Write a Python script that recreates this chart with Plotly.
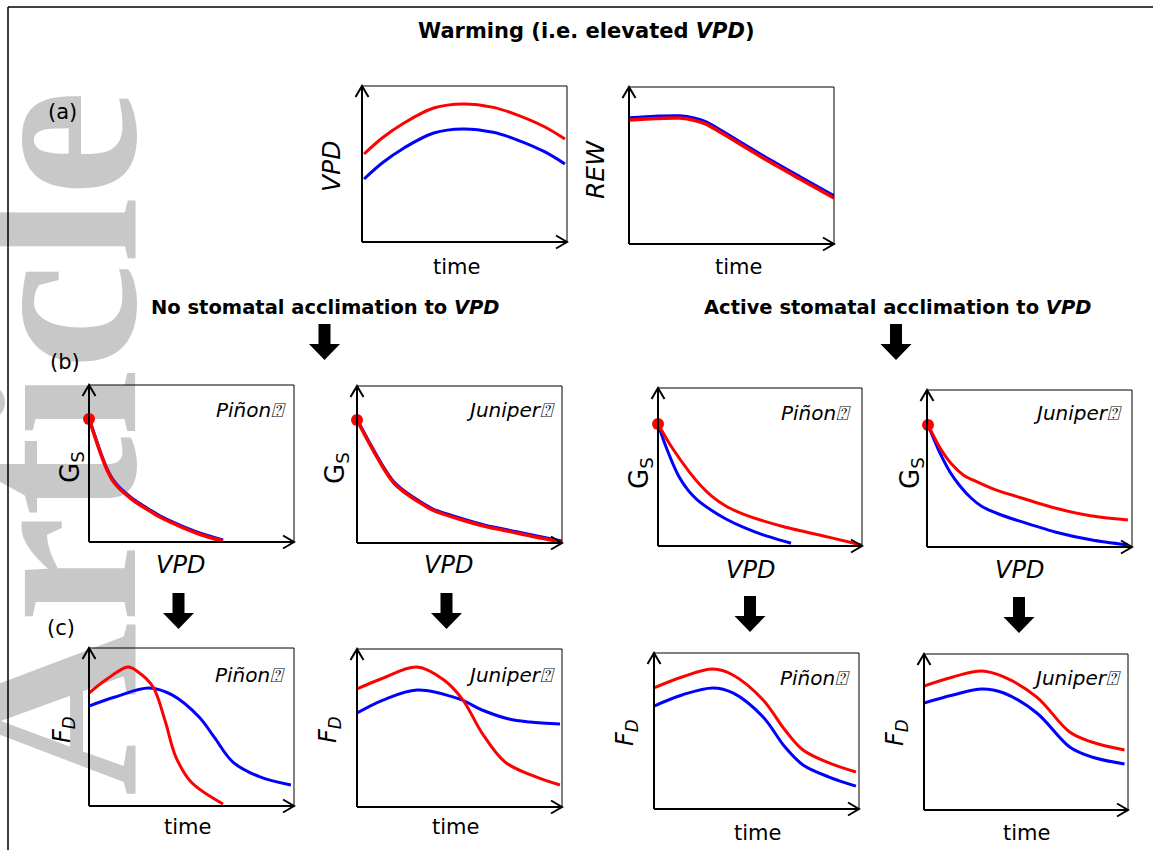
import plotly.graph_objects as go

W, H = 1153, 850

# ---------------- data (normalised 0-10 units inside each panel) ----------------
# (a) VPD vs time
a_vpd_time = [0.1, 1.0, 2.05, 3.5, 4.93, 6.4, 7.46, 8.9, 9.9]
a_vpd_warm = [5.64, 6.68, 7.63, 8.59, 8.85, 8.63, 8.2, 7.39, 6.6]
a_vpd_ctrl = [4.04, 5.08, 6.03, 6.99, 7.25, 7.03, 6.6, 5.79, 5.0]
# (a) REW vs time
a_rew_time = [0.05, 1.27, 2.49, 3.22, 3.76, 4.44, 6.63, 8.34, 10.0]
a_rew_ctrl = [8.03, 8.12, 8.15, 7.99, 7.77, 7.26, 5.54, 4.27, 3.06]
a_rew_warm = [7.9, 7.99, 8.02, 7.86, 7.64, 7.13, 5.41, 4.14, 2.93]

# (b) Gs vs VPD, no acclimation
b_pin_no_vpd = [0, 0.29, 0.59, 0.88, 1.17, 1.46, 1.80, 2.20, 2.73, 3.46, 4.63, 5.66, 6.54]
b_pin_no_warm = [7.83, 6.69, 5.54, 4.59, 3.89, 3.44, 3.03, 2.61, 2.17, 1.59, 0.89, 0.38, 0.06]
b_pin_no_ctrl = [7.9, 6.77, 5.62, 4.67, 3.97, 3.52, 3.11, 2.69, 2.25, 1.67, 0.97, 0.46, 0.13]
b_jun_no_vpd = [0, 0.51, 1.25, 1.80, 2.38, 3.68, 4.98, 6.29, 7.80, 8.72, 10.0]
b_jun_no_warm = [7.83, 6.56, 4.86, 3.82, 3.17, 2.10, 1.53, 1.04, 0.64, 0.38, 0.06]
b_jun_no_ctrl = [7.9, 6.64, 4.94, 3.9, 3.25, 2.18, 1.61, 1.12, 0.72, 0.46, 0.13]
# (b) Gs vs VPD, active acclimation
b_pin_ac_vpd_warm = [0, 0.66, 1.55, 2.09, 2.63, 3.34, 4.24, 6.21, 8.36, 9.97]
b_pin_ac_warm = [7.72, 6.28, 4.66, 3.83, 3.16, 2.52, 1.99, 1.20, 0.56, 0.06]
b_pin_ac_vpd_ctrl = [0, 0.39, 1.01, 1.47, 1.91, 2.6, 3.33, 4.26, 5.15, 6.52]
b_pin_ac_ctrl = [7.72, 6.28, 4.43, 3.54, 2.94, 2.28, 1.71, 1.14, 0.70, 0.17]
b_jun_ac_vpd_warm = [0.05, 0.63, 1.22, 1.80, 2.39, 3.32, 4.49, 6.24, 8.05, 9.80]
b_jun_ac_warm = [7.77, 6.32, 5.25, 4.56, 4.18, 3.66, 3.17, 2.48, 1.97, 1.72]
b_jun_ac_vpd_ctrl = [0.05, 0.63, 1.12, 1.61, 2.15, 2.68, 3.56, 4.49, 6.24, 8.05, 9.8]
b_jun_ac_ctrl = [7.77, 5.99, 4.78, 3.89, 3.12, 2.58, 2.07, 1.66, 0.96, 0.45, 0.13]
# initial conductance points (x = VPD, y = Gs)
dot_warm_x = [0.0, 0.0, 0.0, 0.05]
dot_warm_y = [7.83, 7.83, 7.72, 7.77]
dot_ctrl_x = [-0.06, -0.06, -0.08, -0.03]
dot_ctrl_y = [7.8, 7.8, 7.84, 7.89]

# (c) FD vs time, no acclimation
c_pin_no_t_warm = [0, 0.88, 1.9, 2.38, 3.12, 3.7, 4.24, 4.98, 6.54]
c_pin_no_warm = [7.15, 8.04, 8.8, 8.5, 7.55, 5.44, 3.1, 1.52, 0.13]
c_pin_no_t_ctrl = [0, 1.27, 2.93, 4.05, 5.37, 6.1, 7.02, 8.34, 9.85]
c_pin_no_ctrl = [6.33, 6.9, 7.47, 7.03, 5.63, 4.37, 2.78, 1.84, 1.33]
c_jun_no_t_warm = [0, 1.25, 2.93, 4.24, 5.17, 6.1, 7.22, 8.73, 9.9]
c_jun_no_warm = [7.47, 8.15, 8.86, 8.04, 6.77, 4.68, 2.85, 1.9, 1.39]
c_jun_no_t_ctrl = [0, 1.27, 2.93, 4.98, 6.1, 7.41, 8.44, 9.9]
c_jun_no_ctrl = [5.95, 6.77, 7.41, 6.84, 6.14, 5.57, 5.38, 5.25]
# (c) FD vs time, active acclimation
c_ac_t_pin = [0, 1.37, 2.88, 3.85, 5.32, 6.39, 7.27, 8.54, 9.85]
c_pin_ac_warm = [7.76, 8.46, 8.97, 8.59, 6.99, 5.06, 3.78, 2.95, 2.37]
c_pin_ac_ctrl = [6.6, 7.31, 7.76, 7.44, 5.9, 3.97, 2.82, 2.05, 1.47]
c_ac_t_jun = [0, 1.42, 2.84, 3.91, 5.53, 7.14, 8.22, 9.83]
c_jun_ac_warm = [7.95, 8.53, 8.91, 8.53, 7.24, 5.0, 4.36, 3.85]
c_jun_ac_ctrl = [6.86, 7.37, 7.76, 7.5, 6.22, 4.04, 3.4, 2.95]

RED = "#ff0000"
BLUE = "#0000ff"
FONT = "DejaVu Sans"

# ---------------- layout geometry (pixel boxes: left, top, right, bottom) ----------------
boxes = [
    (362, 86, 567, 242),   # 1 a VPD
    (629, 87, 834, 244),   # 2 a REW
    (89, 385, 294, 542),   # 3 b pinon no
    (357, 386, 562, 543),  # 4 b juniper no
    (658, 388, 862, 546),  # 5 b pinon active
    (927, 390, 1132, 547), # 6 b juniper active
    (89, 648, 294, 806),   # 7 c pinon no
    (357, 649, 562, 807),  # 8 c juniper no
    (654, 653, 859, 809),  # 9 c pinon active
    (924, 654, 1128, 810), # 10 c juniper active
]

fig = go.Figure()
shapes = []
annotations = []


def px(x):
    return x / W


def py(y):
    return 1 - y / H


for i, (l, t, r, b) in enumerate(boxes, start=1):
    s = "" if i == 1 else str(i)
    fig.layout["xaxis" + s] = dict(domain=[px(l), px(r)], range=[0, 10], anchor="y" + s,
                                   showgrid=False, zeroline=False, showticklabels=False,
                                   ticks="", showline=False, fixedrange=True)
    fig.layout["yaxis" + s] = dict(domain=[py(b), py(t)], range=[0, 10], anchor="x" + s,
                                   showgrid=False, zeroline=False, showticklabels=False,
                                   ticks="", showline=False, fixedrange=True)
    xr, yr = "x" + s + " domain", "y" + s + " domain"
    for (x0, y0, x1, y1, w) in [(0, 0, 0, 1, 2), (0, 0, 1, 0, 2), (0, 1, 1, 1, 1), (1, 0, 1, 1, 1)]:
        shapes.append(dict(type="line", xref=xr, yref=yr, x0=x0, y0=y0, x1=x1, y1=y1,
                           line=dict(color="black", width=w)))
    shapes.append(dict(type="path", xref=xr, yref=yr, xsizemode="pixel", ysizemode="pixel",
                       xanchor=0, yanchor=1, path="M-6.5,-11 L0,0 L6.5,-11",
                       line=dict(color="black", width=2)))
    shapes.append(dict(type="path", xref=xr, yref=yr, xsizemode="pixel", ysizemode="pixel",
                       xanchor=1, yanchor=0, path="M-11,6.5 L0,0 L-11,-6.5",
                       line=dict(color="black", width=2)))


def line(i, x, y, color, width=3, smooth=1.0):
    s = "" if i == 1 else str(i)
    fig.add_trace(go.Scatter(x=x, y=y, mode="lines", xaxis="x" + s, yaxis="y" + s,
                             line=dict(color=color, width=width, shape="spline", smoothing=smooth),
                             hoverinfo="skip"))


def dots(i, x, y, color):
    s = "" if i == 1 else str(i)
    fig.add_trace(go.Scatter(x=[x], y=[y], mode="markers", xaxis="x" + s, yaxis="y" + s,
                             marker=dict(color=color, size=12), cliponaxis=False,
                             hoverinfo="skip"))


# (a)
line(1, a_vpd_time, a_vpd_ctrl, BLUE)
line(1, a_vpd_time, a_vpd_warm, RED)
line(2, a_rew_time, a_rew_ctrl, BLUE, 3.5, 0.8)
line(2, a_rew_time, a_rew_warm, RED, 3.5, 0.8)
# (b)
line(3, b_pin_no_vpd, b_pin_no_ctrl, BLUE, 3, 0.7)
line(3, b_pin_no_vpd, b_pin_no_warm, RED, 3.5, 0.7)
line(4, b_jun_no_vpd, b_jun_no_ctrl, BLUE, 3, 0.7)
line(4, b_jun_no_vpd, b_jun_no_warm, RED, 3.5, 0.7)
line(5, b_pin_ac_vpd_ctrl, b_pin_ac_ctrl, BLUE, 3, 0.7)
line(5, b_pin_ac_vpd_warm, b_pin_ac_warm, RED, 3, 0.7)
line(6, b_jun_ac_vpd_ctrl, b_jun_ac_ctrl, BLUE, 3, 0.7)
line(6, b_jun_ac_vpd_warm, b_jun_ac_warm, RED, 3, 0.7)
for k, i in enumerate([3, 4, 5, 6]):
    dots(i, dot_ctrl_x[k], dot_ctrl_y[k], BLUE)
    dots(i, dot_warm_x[k], dot_warm_y[k], RED)
# (c)
line(7, c_pin_no_t_ctrl, c_pin_no_ctrl, BLUE)
line(7, c_pin_no_t_warm, c_pin_no_warm, RED)
line(8, c_jun_no_t_ctrl, c_jun_no_ctrl, BLUE)
line(8, c_jun_no_t_warm, c_jun_no_warm, RED)
line(9, c_ac_t_pin, c_pin_ac_ctrl, BLUE)
line(9, c_ac_t_pin, c_pin_ac_warm, RED)
line(10, c_ac_t_jun, c_jun_ac_ctrl, BLUE)
line(10, c_ac_t_jun, c_jun_ac_warm, RED)

# ---------------- paper shapes ----------------
# watermark (below everything)
shapes.insert(0, dict(type="rect", xref="paper", yref="paper", layer="below",
                      x0=px(0), x1=px(56), y0=py(886), y1=py(0),
                      line=dict(width=0), fillcolor="rgba(0,0,0,0)",
                      label=dict(text="Article", textangle=-90, textposition="middle center",
                                 font=dict(family="Liberation Serif", size=240, color="#c8c8c8",
                                           weight="bold"))))
# frame
shapes.append(dict(type="line", xref="paper", yref="paper", x0=px(8), x1=px(8), y0=py(7), y1=py(852),
                   line=dict(color="black", width=1.5)))
shapes.append(dict(type="line", xref="paper", yref="paper", x0=px(8), x1=px(1155), y0=py(7), y1=py(7),
                   line=dict(color="black", width=1.5)))
# block arrows (centre x, top y)
for (cx, ty) in [(324.5, 324), (896, 324), (178.5, 593), (446.5, 593), (750, 596), (1019, 597)]:
    shapes.append(dict(type="path", xref="paper", yref="paper", xsizemode="pixel", ysizemode="pixel",
                       xanchor=px(cx), yanchor=py(ty),
                       path="M-6,0 L6,0 L6,-20 L15.5,-20 L0,-36 L-15.5,-20 L-6,-20 Z",
                       fillcolor="black", line=dict(width=0)))


def text(s, x, y, size, angle=0, xanchor="center", family=FONT, color="black"):
    annotations.append(dict(text=s, x=px(x), y=py(y), xref="paper", yref="paper",
                            showarrow=False, textangle=angle, xanchor=xanchor, yanchor="middle",
                            font=dict(family=family, size=size, color=color)))


text("<b>Warming (i.e. elevated <i>VPD</i>)</b>", 586, 31, 21)
text("<b>No stomatal acclimation to <i>VPD</i></b>", 325.5, 307, 19.5)
text("<b>Active stomatal acclimation to <i>VPD</i></b>", 897, 307, 19.5)
text("(a)", 62, 112, 21)
text("(b)", 64.5, 362, 21)
text("(c)", 61, 628, 21)
# (a) axis labels
text("<i>VPD</i>", 331, 167, 25, -90)
text("<i>REW</i>", 596, 170, 25, -90)
text("time", 456, 267, 21)
text("time", 738, 267, 21)
# (b) axis labels
for (gx, gy, vx, vy) in [(71, 467, 180, 565), (337, 468, 448, 565), (640, 473, 750, 570), (911, 473, 1019, 570)]:
    text("G<sub>S</sub>", gx, gy, 26, -90)
    text("<i>VPD</i>", vx, vy, 24)
# (c) axis labels
for (fx, fy, tx, ty) in [(63, 730, 187, 827), (329, 730, 455, 827), (626, 733, 757, 833), (896, 733, 1026, 833)]:
    text("<i>F<sub>D</sub></i>", fx, fy, 24, -90)
    text("time", tx, ty, 21)
# species labels
for (sx, sy, name) in [(288, 410, "Piñon"), (557, 410, "Juniper"), (853, 413, "Piñon"), (1124, 413, "Juniper"),
                       (287, 675, "Piñon"), (557, 675, "Juniper"), (852, 678, "Piñon"), (1123, 678, "Juniper")]:
    text("<i>" + name + "⍰</i>", sx, sy, 20, 0, "right")

fig.update_layout(width=W, height=H, margin=dict(l=0, r=0, t=0, b=0),
                  paper_bgcolor="white", plot_bgcolor="rgba(0,0,0,0)",
                  showlegend=False, shapes=shapes, annotations=annotations)

fig.write_html("out.html")
